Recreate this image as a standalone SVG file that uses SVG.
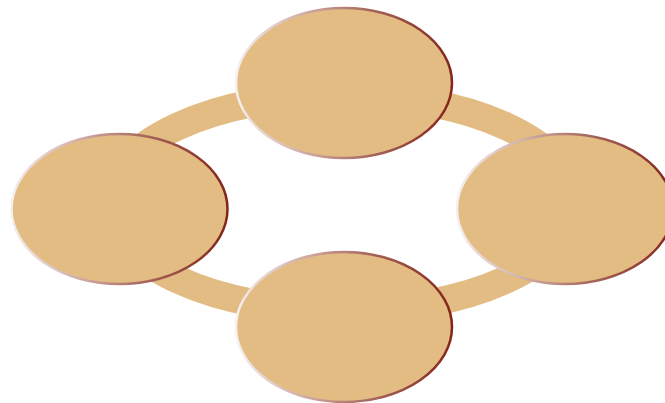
<svg xmlns="http://www.w3.org/2000/svg" width="665" height="403" viewBox="0 0 665 403">
  <defs>
    <linearGradient id="rim" x1="0" y1="0.5" x2="1" y2="0.5">
      <stop offset="0" stop-color="#f6f0f0"/>
      <stop offset="0.3" stop-color="#d2b0aa"/>
      <stop offset="0.6" stop-color="#a86a60"/>
      <stop offset="1" stop-color="#83241a"/>
    </linearGradient>
  </defs>
  <style>
    .node { fill: #E2BC82; stroke: url(#rim); stroke-width: 2.5; }
    .ring { fill: none; stroke: #E2BC82; stroke-width: 28; }
  </style>
  <rect width="665" height="403" fill="#ffffff"/>
  <g id="connectors">
    <ellipse class="ring" cx="342" cy="203" rx="233" ry="108"/>
  </g>
  <g id="node-top">
    <ellipse class="node" cx="344" cy="83" rx="108" ry="75"/>
  </g>
  <g id="node-left">
    <ellipse class="node" cx="119.5" cy="209" rx="108" ry="75"/>
  </g>
  <g id="node-right">
    <ellipse class="node" cx="565" cy="209" rx="108" ry="75"/>
  </g>
  <g id="node-bottom">
    <ellipse class="node" cx="344" cy="327" rx="108" ry="75"/>
  </g>
</svg>
